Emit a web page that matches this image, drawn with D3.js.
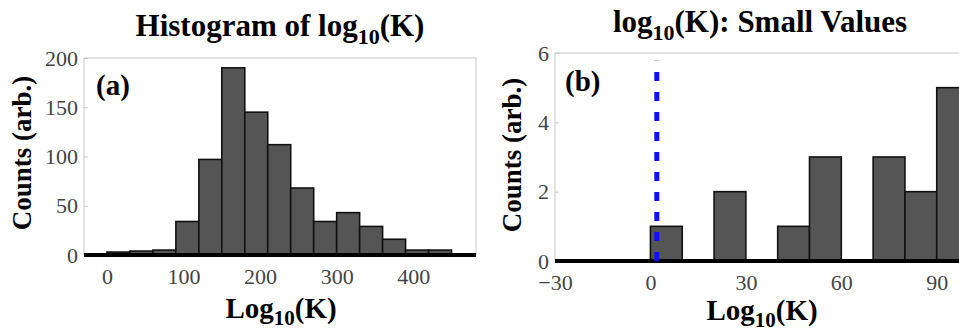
<!DOCTYPE html>
<html>
<head>
<meta charset="utf-8">
<script src="https://cdn.jsdelivr.net/npm/d3@7"></script>
<style>
  body { margin: 0; background: #fff; overflow: hidden; }
  svg { display: block; }
  text { font-family: "Liberation Serif", "DejaVu Serif", serif; }
</style>
</head>
<body>
<div id="chart"></div>
<script>

// panel (a): full histogram, bins of 30
var binStartA = [-30, 0, 30, 60, 90, 120, 150, 180, 210, 240, 270, 300, 330, 360, 390, 420, 450];
var countsA = [0, 3, 4, 5, 34, 97, 190, 145, 112, 68, 34, 43, 29, 16, 5, 5, 0];
var binWidthA = 30;
var xTicksA = [0, 100, 200, 300, 400];
var yTicksA = [0, 50, 100, 150, 200];

// panel (b): small values, bins of 10
var binStartB = [-30, -20, -10, 0, 10, 20, 30, 40, 50, 60, 70, 80, 90];
var countsB = [0, 0, 0, 1, 0, 2, 0, 1, 3, 0, 3, 2, 5];
var binWidthB = 10;
var xTicksB = [-30, 0, 30, 60, 90];
var yTicksB = [0, 2, 4, 6];
var cutoffB = 2;

var svg = d3.select("#chart")
    .append("svg")
    .attr("width", 959)
    .attr("height", 333);

// draw one histogram panel
function drawPanel(opt) {
    var g = svg.append("g");
    var x = d3.scaleLinear().domain(opt.xDomain).range(opt.xRange);
    var y = d3.scaleLinear().domain(opt.yDomain).range(opt.yRange);

    var bins = opt.starts.map((s, i) => ({ x0: s, x1: s + opt.width, n: opt.counts[i] }));

    // light frame
    g.append("rect")
        .attr("x", opt.xRange[0])
        .attr("y", opt.yRange[1])
        .attr("width", opt.xRange[1] - opt.xRange[0])
        .attr("height", opt.yRange[0] - opt.yRange[1])
        .attr("fill", "none")
        .attr("stroke", "#d0d0d0")
        .attr("stroke-width", 1.2);

    // y axis labels (left)
    var yAxis = d3.axisLeft(y).tickValues(opt.yTicks).tickSize(-4).tickPadding(6)
        .tickFormat(d3.format("d"));
    var ya = g.append("g")
        .attr("transform", `translate(${opt.xRange[0]},0)`)
        .call(yAxis);
    ya.select(".domain").remove();
    ya.selectAll("line").attr("stroke", "#c8c8c8");
    ya.selectAll("text").attr("font-size", 22).attr("fill", "#444");

    // x axis labels (bottom)
    var xAxis = d3.axisBottom(x).tickValues(opt.xTicks).tickSize(0).tickPadding(13)
        .tickFormat(d => d < 0 ? "\u2212" + Math.abs(d) : d);
    var xa = g.append("g")
        .attr("transform", `translate(0,${opt.yRange[0]})`)
        .call(xAxis);
    xa.select(".domain").remove();
    xa.selectAll("text").attr("font-size", 22).attr("fill", "#444");

    // bars
    g.selectAll(".bar")
        .data(bins.filter(d => d.n > 0))
        .enter()
        .append("rect")
        .attr("class", "bar")
        .attr("x", d => x(d.x0))
        .attr("y", d => y(d.n))
        .attr("width", d => x(d.x1) - x(d.x0))
        .attr("height", d => y(0) - y(d.n))
        .attr("fill", "#555555")
        .attr("stroke", "#111")
        .attr("stroke-width", 1.6);

    // thick zero line
    g.append("line")
        .attr("x1", opt.xRange[0])
        .attr("x2", opt.xRange[1])
        .attr("y1", y(0))
        .attr("y2", y(0))
        .attr("stroke", "#000")
        .attr("stroke-width", 4);

    // titles
    var t = g.append("text")
        .attr("x", opt.titleX)
        .attr("y", opt.titleY)
        .attr("text-anchor", "middle")
        .attr("font-size", 31)
        .attr("font-weight", "bold");
    opt.title(t);

    var xl = g.append("text")
        .attr("x", opt.xLabelX)
        .attr("y", opt.xLabelY)
        .attr("text-anchor", "middle")
        .attr("font-size", 29)
        .attr("font-weight", "bold");
    xl.append("tspan").text("Log");
    xl.append("tspan").attr("dy", 7).attr("font-size", 21).text("10");
    xl.append("tspan").attr("dy", -7).text("(K)");

    g.append("text")
        .attr("transform", `translate(${opt.yLabelX},${opt.yLabelY}) rotate(-90)`)
        .attr("text-anchor", "middle")
        .attr("font-size", 27)
        .attr("font-weight", "bold")
        .text("Counts (arb.)");

    g.append("text")
        .attr("x", opt.tagX)
        .attr("y", opt.tagY)
        .attr("font-size", 29)
        .attr("font-weight", "bold")
        .text(opt.tag);

    return { g: g, x: x, y: y };
}

drawPanel({
    starts: binStartA, counts: countsA, width: binWidthA,
    xDomain: [-30, 482], xRange: [84, 476],
    yDomain: [0, 200], yRange: [255, 58],
    xTicks: xTicksA, yTicks: yTicksA,
    titleX: 280, titleY: 36,
    title: function(t) {
        t.append("tspan").text("Histogram of log");
        t.append("tspan").attr("dy", 8).attr("font-size", 22).text("10");
        t.append("tspan").attr("dy", -8).text("(K)");
    },
    xLabelX: 281, xLabelY: 318,
    yLabelX: 31, yLabelY: 153,
    tag: "(a)", tagX: 96, tagY: 95
});

var pb = drawPanel({
    starts: binStartB, counts: countsB, width: binWidthB,
    xDomain: [-30, 130], xRange: [555, 1064],
    yDomain: [0, 6], yRange: [261, 53],
    xTicks: xTicksB, yTicks: yTicksB,
    titleX: 760, titleY: 32,
    title: function(t) {
        t.append("tspan").text("log");
        t.append("tspan").attr("dy", 8).attr("font-size", 22).text("10");
        t.append("tspan").attr("dy", -8).text("(K): Small Values");
    },
    xLabelX: 762, xLabelY: 320,
    yLabelX: 521, yLabelY: 155,
    tag: "(b)", tagX: 565, tagY: 91
});

// blue dashed cutoff marker
pb.g.append("line")
    .attr("x1", pb.x(cutoffB))
    .attr("x2", pb.x(cutoffB))
    .attr("y1", pb.y(0))
    .attr("y2", pb.y(5.78))
    .attr("stroke", "#1010ff")
    .attr("stroke-width", 5)
    .attr("stroke-dasharray", "9,11");

</script>
</body>
</html>
